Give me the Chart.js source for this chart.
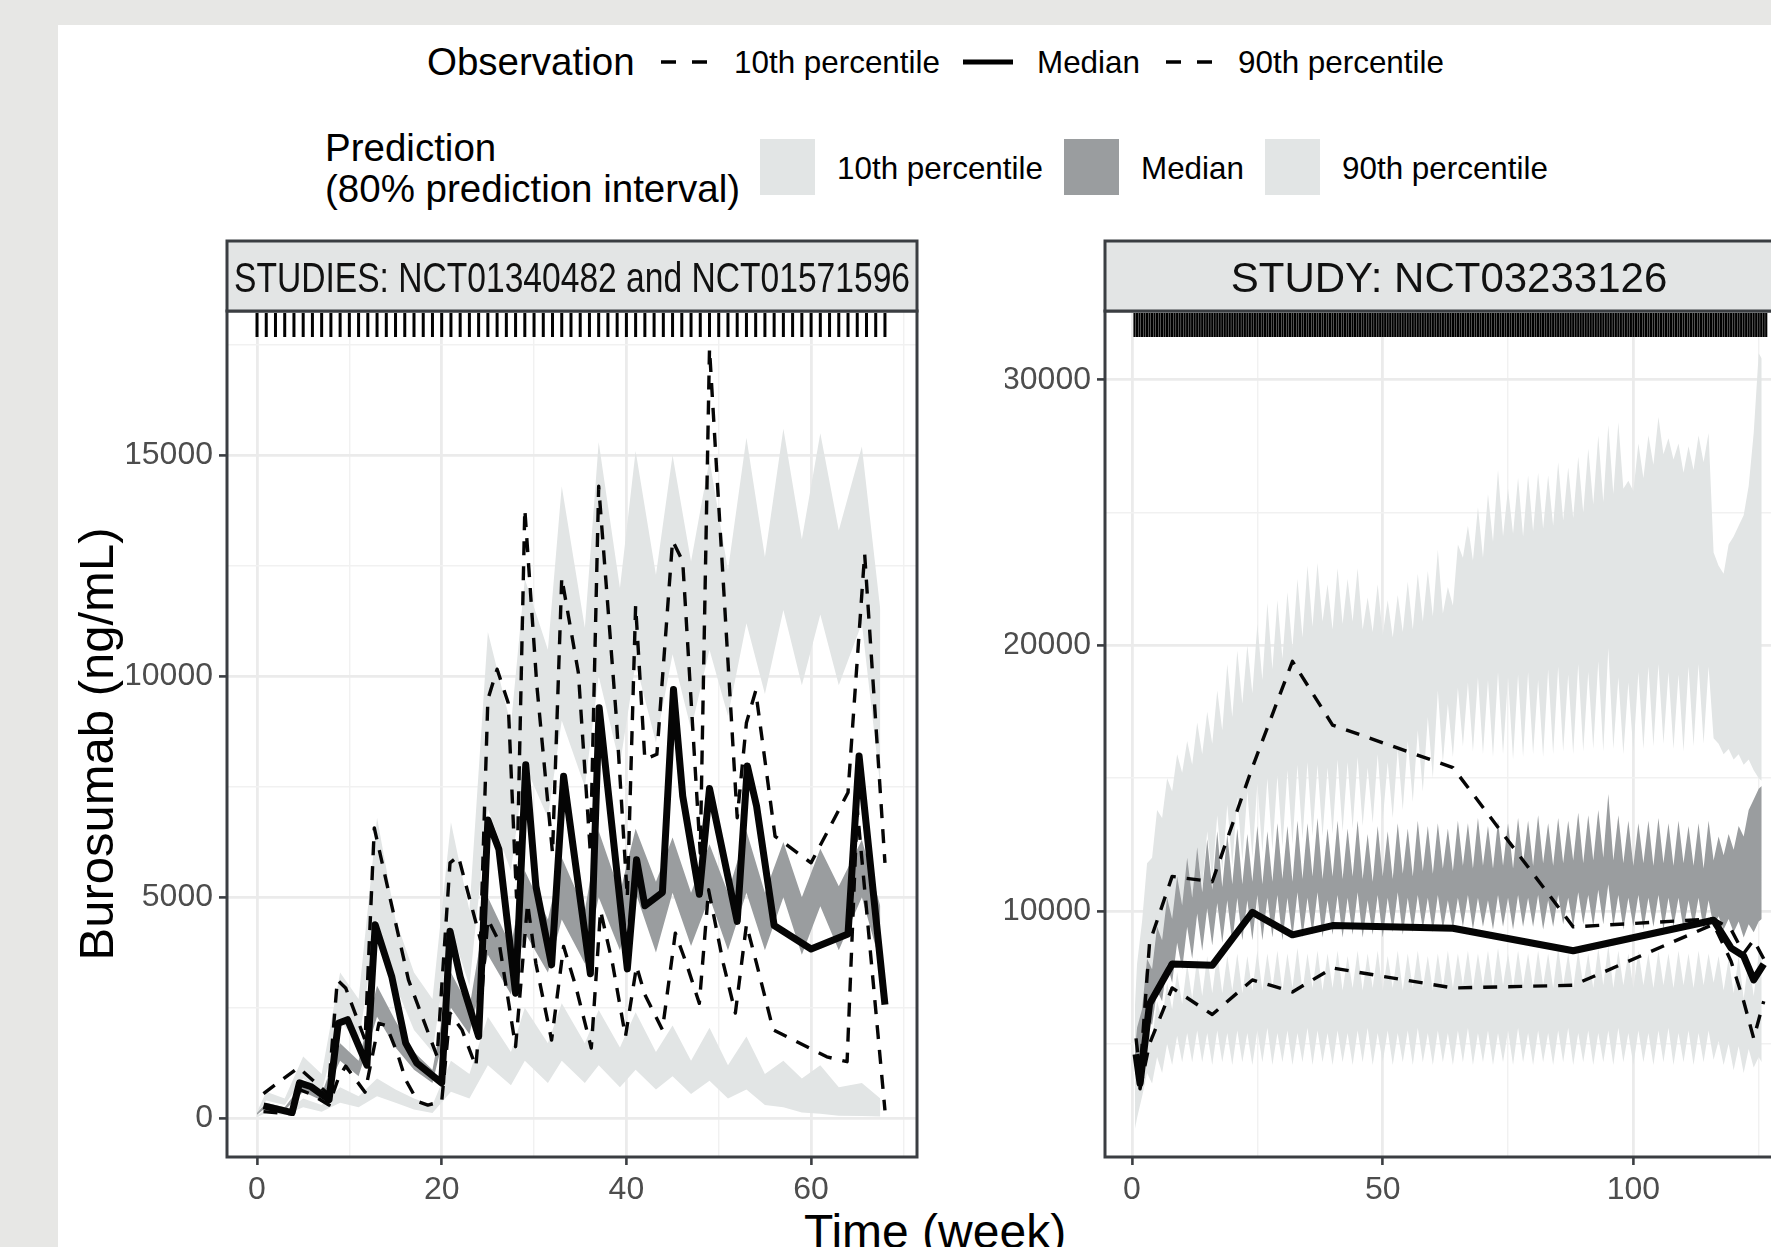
<!DOCTYPE html>
<html>
<head>
<meta charset="utf-8">
<script src="https://cdn.jsdelivr.net/npm/chart.js@4.4.1/dist/chart.umd.min.js"></script>
<style>
  html, body { margin: 0; padding: 0; }
  body { width: 1771px; height: 1247px; overflow: hidden; position: relative; background: #e7e7e5;
         font-family: "Liberation Sans", Arial, Helvetica, sans-serif; color: #000; }
  #sheet { position: absolute; left: 58px; top: 25px; right: 0; bottom: 0; background: #fff; }
  .txt { position: absolute; white-space: nowrap; line-height: 1; }
  .key { position: absolute; }
  canvas { position: absolute; }
</style>
</head>
<body>
<div id="sheet"></div>

<!-- legend: observation row -->
<div class="txt" style="left:427px; top:43px; font-size:38.5px;">Observation</div>
<svg class="key" style="left:660px; top:52px;" width="48" height="20"><line x1="1" y1="10" x2="47" y2="10" stroke="#000" stroke-width="3.5" stroke-dasharray="15 16"/></svg>
<div class="txt" style="left:734px; top:46.5px; font-size:31.4px;">10th percentile</div>
<svg class="key" style="left:963px; top:52px;" width="50" height="20"><line x1="0" y1="10" x2="50" y2="10" stroke="#000" stroke-width="5"/></svg>
<div class="txt" style="left:1037px; top:46.5px; font-size:31.4px;">Median</div>
<svg class="key" style="left:1165px; top:52px;" width="48" height="20"><line x1="1" y1="10" x2="47" y2="10" stroke="#000" stroke-width="3.5" stroke-dasharray="15 16"/></svg>
<div class="txt" style="left:1238px; top:46.5px; font-size:31.4px;">90th percentile</div>

<!-- legend: prediction row -->
<div class="txt" style="left:325px; top:129px; font-size:38.5px;">Prediction</div>
<div class="txt" style="left:325px; top:170px; font-size:38.5px;">(80% prediction interval)</div>
<div class="key" style="left:760px; top:139px; width:55px; height:56px; background:#e2e5e5;"></div>
<div class="txt" style="left:837px; top:152.8px; font-size:31.4px;">10th percentile</div>
<div class="key" style="left:1064px; top:139px; width:55px; height:56px; background:#9a9d9f;"></div>
<div class="txt" style="left:1141px; top:152.8px; font-size:31.4px;">Median</div>
<div class="key" style="left:1265px; top:139px; width:55px; height:56px; background:#e2e5e5;"></div>
<div class="txt" style="left:1342px; top:152.8px; font-size:31.4px;">90th percentile</div>

<!-- axis titles -->
<div class="txt" style="left:96px; top:744px; font-size:49px; transform: translate(-50%,-50%) rotate(-90deg);">Burosumab (ng/mL)</div>
<div class="txt" style="left:935px; top:1208px; font-size:48px; transform: translateX(-50%);">Time (week)</div>

<canvas id="left" width="820" height="1000" style="left:120px; top:230px;"></canvas>
<canvas id="right" width="900" height="1000" style="left:1000px; top:230px;"></canvas>

<script>
// ---------- left panel: STUDIES NCT01340482 and NCT01571596 ----------
const leftBandWeeks = [0, 1, 3, 5, 7, 9, 11, 13, 15, 17, 19, 21, 23, 25, 27.5, 29, 31.5, 33, 35.5, 37, 39.3, 41, 43.2, 45, 47, 49, 51, 53, 55, 57, 59, 61, 63, 65.5, 67.5];
const leftP90Upper = [150, 600, 450, 1400, 1000, 3300, 2700, 6800, 4500, 3300, 2700, 6700, 4700, 11000, 8900, 12200, 10600, 14300, 11100, 15300, 12000, 15100, 12300, 15000, 12600, 14900, 12400, 15400, 12700, 15600, 13100, 15500, 13300, 15200, 11500];
const leftP90Lower = [100, 400, 300, 900, 600, 2200, 1700, 4500, 3000, 2000, 1500, 4300, 3000, 7000, 5600, 8000, 6800, 9000, 7500, 10000, 8000, 10300, 8500, 10500, 8800, 10600, 9100, 11200, 9600, 11500, 9800, 11400, 9800, 11200, 7500];
const leftMedUpper = [120, 350, 250, 800, 550, 1700, 1300, 3000, 2200, 1500, 1100, 3300, 2500, 5000, 3900, 5600, 4500, 5900, 4700, 6500, 5100, 6550, 5350, 6350, 5100, 6200, 5100, 6500, 5100, 6250, 5000, 6100, 5250, 6300, 4800];
const leftMedLower = [80, 250, 180, 600, 400, 1300, 950, 2300, 1600, 1100, 800, 2500, 1900, 3700, 2800, 4200, 3300, 4500, 3500, 5000, 3800, 5100, 3750, 5100, 3900, 5000, 3800, 5100, 3800, 5000, 3700, 4800, 3800, 5000, 3500];
const leftP10Upper = [60, 200, 130, 450, 300, 700, 500, 900, 650, 450, 300, 1300, 1000, 2300, 1500, 2500, 1700, 2600, 1700, 2450, 1600, 2400, 1500, 2100, 1300, 2050, 1200, 1850, 1000, 1300, 900, 1200, 700, 800, 450];
const leftP10Lower = [30, 120, 80, 250, 150, 350, 250, 500, 350, 200, 120, 600, 450, 1200, 750, 1300, 800, 1300, 800, 1200, 700, 1100, 650, 950, 550, 850, 450, 650, 300, 250, 130, 100, 60, 50, 40];

const leftObsMedWeeks = [0.7, 3.8, 4.6, 5.8, 7.8, 8.8, 9.8, 11.9, 12.8, 14.6, 16.1, 17.3, 20.0, 20.9, 22.0, 24.0, 25.0, 26.2, 28.0, 29.1, 30.2, 31.9, 33.2, 36.1, 37.05, 40.1, 41.1, 42.0, 43.9, 45.1, 46.1, 47.9, 49.0, 52.0, 53.1, 54.1, 56.0, 60.0, 64.0, 65.2, 68.0];
const leftObsMed = [280, 130, 800, 720, 420, 2150, 2230, 1200, 4380, 3200, 1700, 1250, 800, 4230, 3200, 1850, 6750, 6080, 2830, 8000, 5250, 3470, 7740, 3270, 9290, 3380, 5850, 4810, 5110, 9700, 7290, 5070, 7460, 4455, 7970, 7060, 4360, 3830, 4170, 8195, 2570];
const leftObs90Weeks = [0.7, 4.5, 7.7, 8.7, 9.6, 11.7, 12.7, 16.4, 19.5, 20.9, 21.8, 24.2, 25.0, 26.0, 27.2, 28.1, 29.0, 30.3, 32.0, 33.0, 34.8, 36.1, 37.0, 38.9, 40.1, 41.0, 42.0, 43.3, 45.0, 46.1, 48.0, 49.0, 52.0, 53.0, 54.0, 56.1, 60.0, 64.0, 65.8, 68.0];
const leftObs90 = [560, 1150, 550, 3130, 2950, 1770, 6570, 3130, 1400, 5780, 5930, 4040, 9480, 10160, 9400, 5000, 13780, 9800, 6000, 12230, 10080, 6000, 14300, 9100, 5000, 11600, 8120, 8235, 13070, 12600, 6000, 17410, 6800, 8950, 9670, 6380, 5780, 7370, 12770, 5780];
const leftObs10Weeks = [0.7, 3.8, 4.6, 5.8, 7.8, 8.8, 9.6, 11.7, 13.2, 14.0, 15.2, 16.1, 17.4, 18.5, 20.0, 20.9, 22.2, 23.7, 25.0, 26.2, 28.0, 29.3, 30.2, 31.9, 33.2, 34.5, 36.2, 37.2, 38.5, 39.9, 41.1, 42.0, 43.9, 45.3, 46.5, 47.9, 48.9, 50.5, 51.8, 53.0, 54.1, 55.9, 61.7, 63.9, 65.0, 68.0];
const leftObs10 = [150, 100, 650, 550, 300, 900, 1180, 590, 2150, 2100, 1470, 870, 380, 300, 380, 2380, 2000, 1170, 4500, 4000, 1620, 4860, 3500, 1770, 3890, 3000, 1590, 4700, 3500, 1850, 3440, 2800, 2000, 4190, 3500, 2600, 5170, 3500, 2380, 4380, 3500, 2000, 1390, 1280, 7000, 180];

const leftRug = [0,1,2,3,4,5,6,7,8,9,10,11,12,13,14,15,16,17,18,19,20,21,22,23,24,25,26,27,28,29,30,31,32,33,34,
  35,36,37,38,39,40,41,42,43,44,45,46,47,48,49,50,51,52,53,54,55,56,57,58,59,60,61,62,63,64,65,66,67,68];
const leftXMajor = [0, 20, 40, 60];
const leftXMinor = [10, 30, 50, 70];
const leftYMajor = [0, 5000, 10000, 15000];
const leftYMinor = [2500, 7500, 12500, 17500];

// ---------- right panel: STUDY NCT03233126 ----------
const rightBandWeeks = [0.6,1,2,3,4,5,6,7,8,9,10,11,12,13,14,15,16,17,18,19,20,21,22,23,24,25,26,27,28,29,30,
  31,32,33,34,35,36,37,38,39,40,41,42,43,44,45,46,47,48,49,50,51,52,53,54,55,56,57,58,59,60,
  61,62,63,64,65,66,67,68,69,70,71,72,73,74,75,76,77,78,79,80,81,82,83,84,85,86,87,88,89,90,
  91,92,93,94,95,96,97,98,99,100,101,102,103,104,105,106,107,108,109,110,111,112,113,114,115,116,117,118,119,120,
  121,122,123,124,125,125.6];
const rightP90Upper = [6500,8000,9600,11800,12000,13800,13500,15000,14500,15900,15200,
  16400,15500,17100,15900,17500,16300,18300,16800,19300,17300,
  19800,17800,20000,18200,20800,18700,21600,19100,21700,19500,
  22000,19900,22500,20300,23000,20700,23100,20900,22300,20600,
  22900,20800,22500,20900,22900,20600,21800,20500,22300,20400,
  21700,20300,21900,20500,22400,20600,22700,20900,22800,21100,
  23600,21200,22200,21500,23800,23300,24500,23200,25200,23300,
  25700,23900,26600,24100,25900,24200,26300,24100,26400,24300,
  26500,24400,26400,24500,26900,24700,26700,24800,27100,25000,
  27400,25300,27900,25400,28300,25700,28400,25900,26200,25800,
  27600,26300,27900,26800,28600,27200,27800,27000,27600,26500,
  27500,26600,27900,26900,28000,23500,23000,22700,23800,24100,
  24500,24900,26000,28000,31000,30800];
const rightP90Lower = [2600,3600,5000,6400,6600,7800,7700,9000,8800,10200,9700,
  11300,10400,12300,10900,13000,11200,13600,11500,14000,11700,
  14300,11900,14500,12000,14800,12200,15000,12300,15100,12400,
  15300,12500,15500,12700,15600,12800,15500,12800,15400,12900,
  15700,13000,15600,13100,15800,13200,15400,13300,15900,13400,
  15600,13500,16100,13800,16400,14100,16800,14500,17300,15000,
  18300,15600,17800,15800,18400,16200,18600,16000,18800,15900,
  18700,15800,19000,15900,18800,15700,18900,15800,19000,15900,
  18700,15800,19100,15900,19200,16000,18900,15900,19300,16000,
  19000,16100,19400,16000,19900,16100,18800,15900,18600,16000,
  19000,16100,19200,16200,19300,16300,19000,16100,18900,16000,
  19200,16200,19300,16300,19200,16500,16300,15900,16100,15700,
  15900,15500,15700,15300,15000,14900];
const rightMedUpper = [4800,5600,6300,8200,7800,9400,8900,10500,9700,11300,10200,
  12000,10500,12400,10700,12700,10800,13000,10900,12900,11000,
  13100,11000,12900,11100,13200,11000,13000,11100,13300,11200,
  13200,11100,13400,11200,13300,11300,13500,11200,13100,11300,
  13400,11200,13100,11300,13400,11200,12900,11100,13200,11300,
  13000,11200,13300,11400,13100,11300,13400,11500,13200,11400,
  13300,11600,13100,11500,13400,11700,13300,11600,13500,11700,
  13200,11600,13400,11700,13300,11600,13500,11800,13400,11700,
  13600,11800,13300,11700,13500,11800,13400,11900,13700,11800,
  13600,11900,13800,12000,14400,11900,13600,11800,13400,11700,
  13300,11800,13400,11700,13500,11800,13300,11700,13400,11800,
  13200,11700,13300,11600,13400,11900,12800,12100,12900,12300,
  13200,12800,13800,14200,14600,14700];
const rightMedLower = [3800,4000,4600,6000,5700,7000,6600,8000,7300,8800,7800,
  9400,8200,9900,8500,10100,8700,10300,8800,10400,8800,
  10500,8900,10400,8900,10600,8900,10500,9000,10600,8900,
  10500,9000,10700,9000,10500,9100,10700,9000,10400,9100,
  10600,9000,10500,9100,10700,9000,10400,9100,10600,9000,
  10500,9200,10700,9100,10500,9200,10600,9300,10500,9200,
  10600,9300,10400,9300,10500,9400,10600,9300,10500,9400,
  10400,9300,10600,9400,10500,9300,10600,9400,10500,9400,
  10600,9300,10400,9400,10600,9500,10500,9400,10700,9500,
  10600,9400,10800,9500,11000,9400,10600,9300,10500,9400,
  10600,9300,10500,9400,10600,9300,10500,9400,10500,9300,
  10400,9400,10500,9300,10400,9400,9800,9300,9700,9200,
  9600,9000,9500,9200,9600,9700];
const rightP10Upper = [3500,3800,4200,5600,5200,6600,5900,7300,6300,7700,6500,
  8000,6700,8200,6800,8300,6900,8400,6900,8300,7000,
  8400,6900,8300,7000,8500,7000,8400,7100,8500,7000,
  8400,7100,8600,7000,8400,7100,8500,7000,8400,7100,
  8500,7000,8300,7100,8500,7000,8400,7100,8500,7000,
  8300,7100,8500,7000,8400,7100,8500,7100,8300,7000,
  8400,7100,8500,7100,8400,7200,8500,7100,8400,7200,
  8500,7100,8600,7200,8400,7100,8500,7200,8400,7100,
  8500,7200,8400,7100,8600,7200,8400,7100,8500,7200,
  8400,7100,8600,7200,8700,7100,8500,7200,8400,7100,
  8500,7200,8400,7100,8500,7200,8400,7100,8500,7200,
  8400,7100,8500,7200,8400,7300,8300,7000,8200,6900,
  8300,6700,8200,6800,8400,8300];
const rightP10Lower = [1800,2200,3000,3900,3500,4500,3900,5000,4200,5300,4300,
  5400,4300,5500,4300,5400,4200,5500,4300,5400,4200,
  5500,4300,5400,4200,5500,4300,5600,4200,5400,4300,
  5500,4200,5400,4300,5600,4200,5500,4300,5400,4200,
  5500,4300,5400,4200,5500,4300,5600,4200,5400,4300,
  5500,4200,5400,4300,5500,4200,5600,4300,5400,4200,
  5500,4300,5400,4200,5500,4300,5600,4200,5400,4300,
  5500,4200,5400,4300,5500,4200,5600,4300,5400,4200,
  5500,4300,5400,4200,5500,4300,5600,4200,5400,4300,
  5500,4200,5400,4300,5500,4200,5600,4300,5400,4200,
  5500,4300,5400,4200,5500,4300,5600,4200,5400,4300,
  5500,4200,5400,4300,5500,4400,5100,4200,5000,4000,
  4900,3900,4800,4100,4500,4300];

const rightObsWeeks = [0.8, 1.6, 3.5, 8, 16, 24, 32, 40, 64, 88, 116, 119.5, 122, 124, 126];
const rightObsMed = [4600, 3500, 6500, 8000, 7950, 9950, 9100, 9450, 9350, 8500, 9650, 8600, 8300, 7400, 8000];
const rightObs90 = [5200, 3900, 8800, 11300, 11100, 15400, 19400, 17000, 15400, 9400, 9700, 9300, 8400, 8900, 8200];
const rightObs10 = [4300, 3300, 5000, 7100, 6100, 7400, 6950, 7850, 7100, 7200, 9500, 8100, 6600, 5200, 6600];

const rightRug = [0.5,1,1.5,2,2.5,3,3.5,4,4.5,5,5.5,6,6.5,7,7.5,8,8.5,9,9.5,10,
  10.5,11,11.5,12,12.5,13,13.5,14,14.5,15,15.5,16,16.5,17,17.5,18,18.5,19,19.5,20,
  20.5,21,21.5,22,22.5,23,23.5,24,24.5,25,25.5,26,26.5,27,27.5,28,28.5,29,29.5,30,
  30.5,31,31.5,32,32.5,33,33.5,34,34.5,35,35.5,36,36.5,37,37.5,38,38.5,39,39.5,40,
  40.5,41,41.5,42,42.5,43,43.5,44,44.5,45,45.5,46,46.5,47,47.5,48,48.5,49,49.5,50,
  50.5,51,51.5,52,52.5,53,53.5,54,54.5,55,55.5,56,56.5,57,57.5,58,58.5,59,59.5,60,
  60.5,61,61.5,62,62.5,63,63.5,64,64.5,65,65.5,66,66.5,67,67.5,68,68.5,69,69.5,70,
  70.5,71,71.5,72,72.5,73,73.5,74,74.5,75,75.5,76,76.5,77,77.5,78,78.5,79,79.5,80,
  80.5,81,81.5,82,82.5,83,83.5,84,84.5,85,85.5,86,86.5,87,87.5,88,88.5,89,89.5,90,
  90.5,91,91.5,92,92.5,93,93.5,94,94.5,95,95.5,96,96.5,97,97.5,98,98.5,99,99.5,100,
  100.5,101,101.5,102,102.5,103,103.5,104,104.5,105,105.5,106,106.5,107,107.5,108,108.5,109,109.5,110,
  110.5,111,111.5,112,112.5,113,113.5,114,114.5,115,115.5,116,116.5,117,117.5,118,118.5,119,119.5,120,
  120.5,121,121.5,122,122.5,123,123.5,124,124.5,125,125.5,126,126.5];
const rightXMajor = [0, 50, 100];
const rightXMinor = [25, 75, 125];
const rightYMajor = [10000, 20000, 30000];
const rightYMinor = [5000, 15000, 25000];

// ---------- shared styling ----------
const FONT = "'Liberation Sans', Arial, Helvetica, sans-serif";
const LIGHT = '#e2e5e5';
const DARK = '#9a9d9f';
const BORDER = '#3b3e42';
Chart.defaults.font.family = FONT;

function pts(xs, ys) {
  return xs.map((x, i) => ({ x: x, y: ys[i] }));
}

function band(xs, ys, color, fill, order) {
  return {
    data: pts(xs, ys), fill: fill, backgroundColor: color,
    borderColor: 'rgba(0,0,0,0)', borderWidth: 0, pointRadius: 0, tension: 0, order: order
  };
}

function obsLine(xs, ys, dashed) {
  return {
    data: pts(xs, ys), fill: false, borderColor: '#050505',
    borderWidth: dashed ? 3.4 : 7, borderDash: dashed ? [14, 11] : [],
    borderJoinStyle: 'round', pointRadius: 0, tension: 0, order: 0
  };
}

function axis(min, max, major, minor, size) {
  const isMajor = ctx => ctx.tick && major.includes(ctx.tick.value);
  return {
    type: 'linear', min: min, max: max,
    afterBuildTicks: s => { s.ticks = major.concat(minor).sort((a, b) => a - b).map(v => ({ value: v })); },
    afterFit: s => { if (s.isHorizontal()) s.height = size; else s.width = size; },
    border: { display: false },
    grid: {
      color: ctx => isMajor(ctx) ? '#ebebeb' : '#f1f1f1',
      lineWidth: ctx => isMajor(ctx) ? 2.8 : 1.4,
      tickColor: ctx => isMajor(ctx) ? BORDER : 'rgba(0,0,0,0)',
      tickWidth: 2.6, tickLength: 8
    },
    ticks: {
      autoSkip: false, maxRotation: 0, color: '#4d4d4d', padding: 6,
      font: { size: 32, family: FONT },
      callback: v => major.includes(v) ? String(v) : ''
    }
  };
}

// strip, rug and panel border
const panelDeco = {
  id: 'panelDeco',
  afterDatasetsDraw(chart, args, opts) {
    const { ctx, chartArea: a, scales } = chart;
    ctx.save();
    ctx.strokeStyle = '#000';
    ctx.lineWidth = opts.rugWidth;
    ctx.beginPath();
    opts.rug.forEach(t => {
      const px = scales.x.getPixelForValue(t);
      ctx.moveTo(px, a.top + 2);
      ctx.lineTo(px, a.top + 26);
    });
    ctx.stroke();

    ctx.strokeStyle = BORDER;
    ctx.lineWidth = 3;
    ctx.strokeRect(a.left, a.top, a.right - a.left, a.bottom - a.top);
    const h = 70;
    ctx.fillStyle = '#e3e5e5';
    ctx.fillRect(a.left, a.top - h, a.right - a.left, h);
    ctx.strokeRect(a.left, a.top - h, a.right - a.left, h);
    ctx.fillStyle = '#111';
    ctx.font = '42px ' + FONT;
    ctx.textAlign = 'center';
    ctx.textBaseline = 'alphabetic';
    ctx.fillText(opts.title, (a.left + a.right) / 2, a.top - 19.5, opts.maxWidth);
    ctx.restore();
  }
};

function makePanel(id, cfg) {
  new Chart(document.getElementById(id), {
    type: 'line',
    data: {
      datasets: [
        band(cfg.t, cfg.p90lo, LIGHT, false, 2),
        band(cfg.t, cfg.p90hi, LIGHT, '-1', 2),
        band(cfg.t, cfg.medlo, DARK, false, 1),
        band(cfg.t, cfg.medhi, DARK, '-1', 1),
        band(cfg.t, cfg.p10lo, LIGHT, false, 2),
        band(cfg.t, cfg.p10hi, LIGHT, '-1', 2),
        obsLine(cfg.t10, cfg.o10, true),
        obsLine(cfg.tmed, cfg.omed, false),
        obsLine(cfg.t90, cfg.o90, true)
      ]
    },
    options: {
      responsive: false, animation: false, devicePixelRatio: 1, events: [],
      layout: { autoPadding: false, padding: cfg.padding },
      plugins: {
        legend: { display: false }, tooltip: { enabled: false },
        panelDeco: { title: cfg.title, maxWidth: cfg.titleWidth, rug: cfg.rug, rugWidth: cfg.rugWidth }
      },
      scales: {
        x: axis(cfg.xmin, cfg.xmax, cfg.xMajor, cfg.xMinor, 60),
        y: axis(cfg.ymin, cfg.ymax, cfg.yMajor, cfg.yMinor, 100)
      }
    },
    plugins: [panelDeco]
  });
}

makePanel('left', {
  title: 'STUDIES: NCT01340482 and NCT01571596', titleWidth: 676,
  t: leftBandWeeks, p90lo: leftP90Lower, p90hi: leftP90Upper, medlo: leftMedLower, medhi: leftMedUpper,
  p10lo: leftP10Lower, p10hi: leftP10Upper,
  t10: leftObs10Weeks, o10: leftObs10, tmed: leftObsMedWeeks, omed: leftObsMed, t90: leftObs90Weeks, o90: leftObs90,
  rug: leftRug, rugWidth: 3,
  xmin: -3.25, xmax: 71.47, xMajor: leftXMajor, xMinor: leftXMinor,
  ymin: -876, ymax: 18265, yMajor: leftYMajor, yMinor: leftYMinor,
  padding: { left: 7, right: 23, top: 81, bottom: 13 }
});

makePanel('right', {
  title: 'STUDY: NCT03233126', titleWidth: 9999,
  t: rightBandWeeks, p90lo: rightP90Lower, p90hi: rightP90Upper, medlo: rightMedLower, medhi: rightMedUpper,
  p10lo: rightP10Lower, p10hi: rightP10Upper,
  t10: rightObsWeeks, o10: rightObs10, tmed: rightObsWeeks, omed: rightObsMed, t90: rightObsWeeks, o90: rightObs90,
  rug: rightRug, rugWidth: 2.2,
  xmin: -5.39, xmax: 131.84, xMajor: rightXMajor, xMinor: rightXMinor,
  ymin: 734, ymax: 32591, yMajor: rightYMajor, yMinor: rightYMinor,
  padding: { left: 5, right: 107, top: 81, bottom: 13 }
});
</script>
</body>
</html>
